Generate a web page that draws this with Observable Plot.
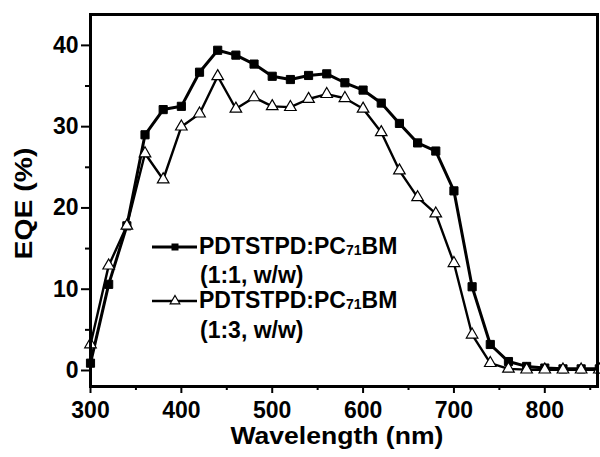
<!DOCTYPE html>
<html>
<head>
<meta charset="utf-8">
<script src="https://cdn.jsdelivr.net/npm/d3@7"></script>
<script src="https://cdn.jsdelivr.net/npm/@observablehq/plot@0.6"></script>
<style>
  html, body { margin: 0; padding: 0; background: #fff; }
  #chart { position: relative; width: 600px; height: 457px; }
  svg { font-family: "Liberation Sans", Arial, sans-serif; font-weight: bold; }
</style>
</head>
<body>
<div id="chart"></div>
<script>
// Wavelength (nm)
const wavelengths = [300, 320, 340, 360, 380, 400, 420, 440, 460, 480, 500, 520, 540, 560, 580,
                     600, 620, 640, 660, 680, 700, 720, 740, 760, 780, 800, 820, 840, 860];
// EQE (%) PDTSTPD:PC71BM (1:1, w/w)
const eqe11 = [0.9, 10.6, 17.8, 29.0, 32.1, 32.5, 36.7, 39.4, 38.8, 37.7, 36.2, 35.8, 36.3, 36.5, 35.4,
               34.5, 32.9, 30.4, 28.0, 27.0, 22.1, 10.3, 3.2, 1.1, 0.5, 0.3, 0.2, 0.2, 0.2];
// EQE (%) PDTSTPD:PC71BM (1:3, w/w)
const eqe13 = [3.2, 12.9, 17.8, 26.7, 23.5, 30.0, 31.6, 36.2, 32.2, 33.6, 32.5, 32.4, 33.4, 34.0, 33.5,
               32.2, 29.3, 24.6, 21.3, 19.3, 13.2, 4.4, 0.9, 0.2, 0.1, 0.1, 0.1, 0.1, 0.1];

const xMajor = [300, 400, 500, 600, 700, 800];
const xMinor = [350, 450, 550, 650, 750, 850];
const yMajor = [0, 10, 20, 30, 40];
const yMinor = [5, 15, 25, 35];
const xLabel = "Wavelength (nm)";
const yLabel = "EQE (%)";
const seriesName = "PDTSTPD:PC";
const seriesSub = "71";
const seriesTail = "BM";
const ratios = ["(1:1, w/w)", "(1:3, w/w)"];

const s11 = wavelengths.map((w, i) => ({w, v: eqe11[i]}));
const s13 = wavelengths.map((w, i) => ({w, v: eqe13[i]}));

const X_LEN = 213, Y_LEN = 112;

const chart = Plot.plot({
  width: 600,
  height: 457,
  marginLeft: 90,
  marginRight: 3,
  marginTop: 14,
  marginBottom: 71,
  style: {fontFamily: "'Liberation Sans', Arial, sans-serif", fontSize: "23px", fontWeight: "bold", background: "#fff", overflow: "visible"},
  x: {domain: [300, 858]},
  y: {domain: [-1.97, 43.8]},
  marks: [
    Plot.axisX({ticks: xMajor, tickSize: 7, tickPadding: 8, strokeWidth: 2, label: null, fill: "#000", fontSize: 23, fontWeight: "bold"}),
    Plot.axisX({ticks: xMinor, tickSize: 4, strokeWidth: 2, tickFormat: () => "", label: null}),
    Plot.axisY({ticks: yMajor, tickSize: 9, tickPadding: 3, strokeWidth: 2, label: null, fill: "#000", fontSize: 23, fontWeight: "bold"}),
    Plot.axisY({ticks: yMinor, tickSize: 5, strokeWidth: 2, tickFormat: () => "", label: null}),
    Plot.text([xLabel], {frameAnchor: "bottom", textAnchor: "start", dx: -7 - X_LEN / 2, dy: 57, fontSize: 23, fontWeight: "bold", fill: "#000"}),
    Plot.text([yLabel], {frameAnchor: "left", textAnchor: "start", rotate: -90, dx: -66, dy: 3 + Y_LEN / 2, fontSize: 23, fontWeight: "bold", fill: "#000"}),
    Plot.line(s11, {x: "w", y: "v", stroke: "#000", strokeWidth: 3}),
    Plot.dot(s11, {x: "w", y: "v", symbol: "square", r: 4.6, fill: "#000", stroke: "#000", strokeWidth: 1}),
    Plot.line(s13, {x: "w", y: "v", stroke: "#000", strokeWidth: 2.4}),
    Plot.dot(s13, {x: "w", y: "v", symbol: "triangle", r: 4.3, fill: "#fff", stroke: "#000", strokeWidth: 1.2}),
    Plot.frame({stroke: "#000", strokeWidth: 3})
  ]
});

document.getElementById("chart").appendChild(chart);

// stretch axis titles along the text direction like the reference
const svg = d3.select(chart);
svg.selectAll("text").each(function() {
  const t = this.textContent;
  let len = null;
  if (t === xLabel) len = X_LEN;
  if (t === yLabel) len = Y_LEN;
  if (len != null) {
    const natural = this.getComputedTextLength();
    if (natural > 0) {
      const tr = this.getAttribute("transform") || "";
      this.setAttribute("transform", tr + ` scale(${(len / natural).toFixed(4)},1)`);
    }
  }
});

// legend
const lg = svg.append("g").attr("fill", "#000").attr("text-anchor", "start")
  .style("font-family", "'Liberation Sans', Arial, sans-serif").style("font-weight", "bold").style("font-size", "23px");
const entries = [
  {y: 247, base: 254, base2: 283, sw: 3, sym: "square", ratio: ratios[0]},
  {y: 301, base: 308, base2: 338, sw: 2.4, sym: "triangle", ratio: ratios[1]}
];
entries.forEach(e => {
  lg.append("line").attr("x1", 152).attr("x2", 197).attr("y1", e.y).attr("y2", e.y).attr("stroke", "#000").attr("stroke-width", e.sw);
  if (e.sym === "square") {
    lg.append("rect").attr("x", 171.5).attr("y", e.y - 3.5).attr("width", 7).attr("height", 7).attr("fill", "#000");
  } else {
    lg.append("path").attr("d", d3.symbol(d3.symbolTriangle, 40)()).attr("transform", `translate(175,${e.y})`).attr("fill", "#fff").attr("stroke", "#000").attr("stroke-width", 1.2);
  }
  const t = lg.append("text").attr("x", 199).attr("y", e.base).attr("text-anchor", "start");
  t.append("tspan").text(seriesName);
  t.append("tspan").attr("font-size", 14).attr("dy", 1).text(seriesSub);
  t.append("tspan").attr("dy", -1).text(seriesTail);
  lg.append("text").attr("x", 200).attr("y", e.base2).attr("text-anchor", "start").text(e.ratio);
});
</script>
</body>
</html>
